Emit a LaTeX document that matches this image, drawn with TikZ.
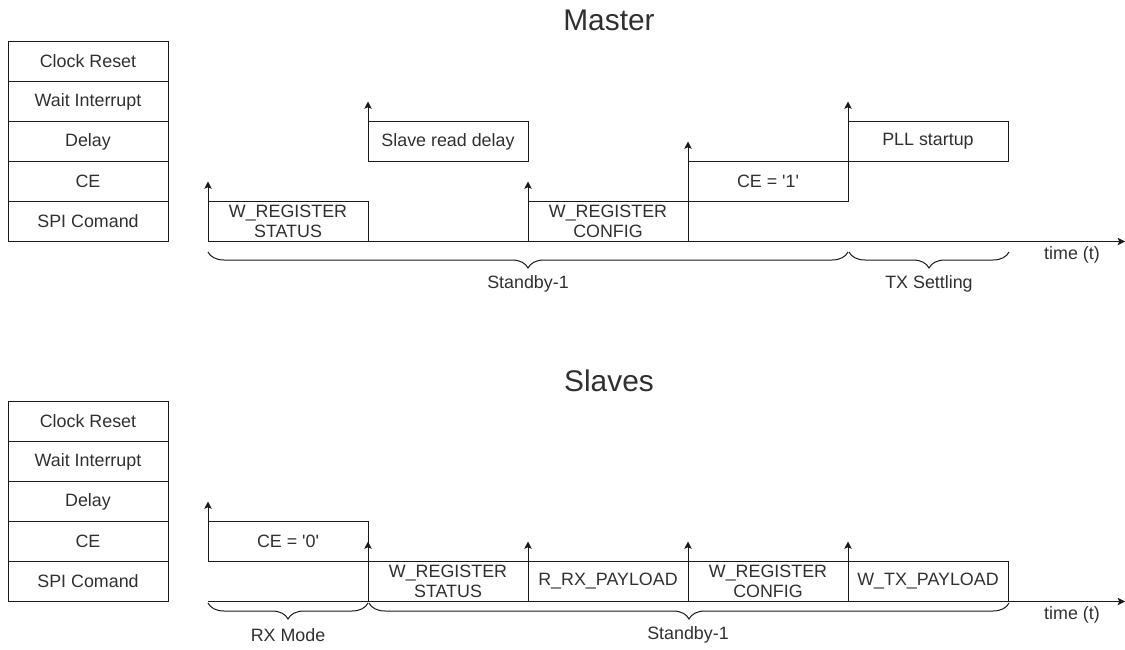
\documentclass[tikz,border=0pt]{standalone}
\usepackage{fontspec}
\setmainfont{Liberation Sans}
\usepackage{tikz}
\usetikzlibrary{arrows.meta,positioning,decorations.pathreplacing}
\definecolor{linec}{HTML}{1A1A1A}
\definecolor{txtc}{HTML}{303030}
\tikzset{
  ar/.style={-{Stealth[length=5.5pt,width=5.5pt,inset=1.2pt]},line width=0.75pt,linec},
  row/.style={draw=linec,line width=0.75pt,minimum width=120pt,minimum height=30pt,inner sep=0pt,outer sep=0pt,font=\fontsize{13.4}{15}\selectfont,text=txtc,align=center},
  lbl/.style={font=\fontsize{13.4}{15}\selectfont,text=txtc,inner sep=0pt},
  ttl/.style={font=\fontsize{22.4}{26}\selectfont,text=txtc,inner sep=0pt},
  brc/.style={decorate,decoration={brace,mirror,amplitude=12pt},line width=0.75pt,linec}
}

\begin{document}
\begin{tikzpicture}[x=0.75pt,y=-0.75pt]
\useasboundingbox (0,0) rectangle (1125,650);
\node[ttl] (mtitle) at (609,20.5) {Master};
\node[row] (mcr) at (88,61.5) {Clock Reset};
\node[row,below=0pt of mcr] (mwi) {Wait Interrupt};
\node[row,below=0pt of mwi] (mdl) {Delay};
\node[row,below=0pt of mdl] (mce) {CE};
\node[row,below=0pt of mce] (mspi) {SPI Comand};
\node[row] (mws) at (288,221.5) {W\_REGISTER\\STATUS};
\node[row] (msrd) at (448,141.5) {Slave read delay};
\node[row] (mwc) at (608,221.5) {W\_REGISTER\\CONFIG};
\node[row] (mce1) at (768,181.5) {CE = \textquotesingle 1\textquotesingle};
\node[row] (mpll) at (928,141.5) {PLL startup};
\coordinate (mend) at (1125,241.5);
\draw[ar] (mws.south west) -- (mend);
\draw[ar] (mws.south west) -- ++(0,-60);
\draw[ar] (msrd.south west) -- ++(0,-60);
\draw[ar] (mwc.south west) -- ++(0,-60);
\draw[ar] (mwc.south east) -- ++(0,-100);
\draw[ar] (mce1.south east) -- ++(0,-100);
\node[lbl] (mtime) at (1072,255) {time (t)};
\draw[brc] (208,252) -- (848,252);
\draw[brc] (849,252) -- (1009,252);
\node[lbl] (msb) at (528,284) {Standby-1};
\node[lbl] (mtx) at (929,284) {TX Settling};

\node[ttl] (stitle) at (609,380.5) {Slaves};
\node[row] (scr) at (88,421.5) {Clock Reset};
\node[row,below=0pt of scr] (swi) {Wait Interrupt};
\node[row,below=0pt of swi] (sdl) {Delay};
\node[row,below=0pt of sdl] (sce) {CE};
\node[row,below=0pt of sce] (sspi) {SPI Comand};
\node[row] (sce0) at (288,541.5) {CE = \textquotesingle 0\textquotesingle};
\node[row] (sws) at (448,581.5) {W\_REGISTER\\STATUS};
\node[row] (srx) at (608,581.5) {R\_RX\_PAYLOAD};
\node[row] (swc) at (768,581.5) {W\_REGISTER\\CONFIG};
\node[row] (swtx) at (928,581.5) {W\_TX\_PAYLOAD};
\coordinate (send) at (1125,601.5);
\draw[ar] (sce0.south west |- sws.south) -- (send);
\draw[ar] (sce0.south west) -- ++(0,-60);
\draw[ar] (sws.south west) -- ++(0,-60);
\draw[ar] (srx.south west) -- ++(0,-60);
\draw[ar] (swc.south west) -- ++(0,-60);
\draw[ar] (swtx.south west) -- ++(0,-60);
\node[lbl] (stime) at (1072,615) {time (t)};
\draw[brc] (208,603) -- (368,603);
\draw[brc] (369,603) -- (1009,603);
\node[lbl] (srxm) at (288,635) {RX Mode};
\node[lbl] (ssb) at (688,635) {Standby-1};
\end{tikzpicture}
\end{document}
